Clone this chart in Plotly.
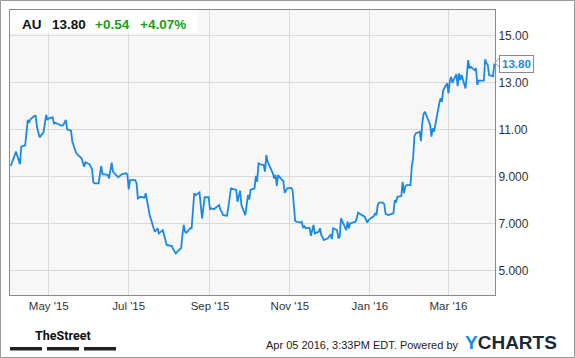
import plotly.graph_objects as go

# ---------------- data ----------------
dates = [
    "2015-04-02", "2015-04-06", "2015-04-09", "2015-04-10", "2015-04-13", "2015-04-15", "2015-04-16",
    "2015-04-17", "2015-04-20", "2015-04-21", "2015-04-22", "2015-04-24", "2015-04-27", "2015-04-28",
    "2015-04-29", "2015-04-30", "2015-05-01", "2015-05-04", "2015-05-05", "2015-05-06", "2015-05-08",
    "2015-05-11", "2015-05-12", "2015-05-14", "2015-05-15", "2015-05-18", "2015-05-19", "2015-05-20",
    "2015-05-22", "2015-05-26", "2015-05-27", "2015-05-28", "2015-05-29", "2015-06-01", "2015-06-02",
    "2015-06-03", "2015-06-04", "2015-06-05", "2015-06-08", "2015-06-10", "2015-06-11", "2015-06-15",
    "2015-06-16", "2015-06-18", "2015-06-19", "2015-06-23", "2015-06-26", "2015-06-29", "2015-06-30",
    "2015-07-01", "2015-07-02", "2015-07-06", "2015-07-07", "2015-07-08", "2015-07-10", "2015-07-13",
    "2015-07-14", "2015-07-15", "2015-07-17", "2015-07-20", "2015-07-21", "2015-07-23", "2015-07-24",
    "2015-07-27", "2015-07-28", "2015-07-29", "2015-07-30", "2015-08-03", "2015-08-04", "2015-08-06",
    "2015-08-07", "2015-08-10", "2015-08-11", "2015-08-12", "2015-08-13", "2015-08-14", "2015-08-17",
    "2015-08-18", "2015-08-20", "2015-08-21", "2015-08-24", "2015-08-26", "2015-08-28", "2015-08-31",
    "2015-09-01", "2015-09-02", "2015-09-04", "2015-09-08", "2015-09-09", "2015-09-10", "2015-09-11",
    "2015-09-14", "2015-09-15", "2015-09-17", "2015-09-21", "2015-09-22", "2015-09-24", "2015-09-25",
    "2015-09-28", "2015-09-30", "2015-10-01", "2015-10-02", "2015-10-05", "2015-10-06", "2015-10-07",
    "2015-10-08", "2015-10-09", "2015-10-12", "2015-10-13", "2015-10-14", "2015-10-15", "2015-10-19",
    "2015-10-20", "2015-10-21", "2015-10-22", "2015-10-23", "2015-10-26", "2015-10-27", "2015-10-28",
    "2015-10-30", "2015-11-02", "2015-11-03", "2015-11-04", "2015-11-05", "2015-11-06", "2015-11-09",
    "2015-11-10", "2015-11-11", "2015-11-12", "2015-11-13", "2015-11-16", "2015-11-17", "2015-11-19",
    "2015-11-20", "2015-11-23", "2015-11-24", "2015-11-25", "2015-11-27", "2015-11-30", "2015-12-01",
    "2015-12-02", "2015-12-03", "2015-12-04", "2015-12-07", "2015-12-08", "2015-12-09", "2015-12-10",
    "2015-12-14", "2015-12-15", "2015-12-16", "2015-12-17", "2015-12-21", "2015-12-22", "2015-12-23",
    "2015-12-28", "2015-12-29", "2015-12-30", "2015-12-31", "2016-01-04", "2016-01-05", "2016-01-06",
    "2016-01-07", "2016-01-08", "2016-01-11", "2016-01-12", "2016-01-13", "2016-01-15", "2016-01-19",
    "2016-01-20", "2016-01-21", "2016-01-22", "2016-01-25", "2016-01-26", "2016-01-27", "2016-01-28",
    "2016-01-29", "2016-02-01", "2016-02-02", "2016-02-03", "2016-02-04", "2016-02-05", "2016-02-08",
    "2016-02-09", "2016-02-10", "2016-02-11", "2016-02-12", "2016-02-16", "2016-02-17", "2016-02-18",
    "2016-02-19", "2016-02-22", "2016-02-23", "2016-02-24", "2016-02-25", "2016-02-26", "2016-02-29",
    "2016-03-01", "2016-03-02", "2016-03-03", "2016-03-04", "2016-03-07", "2016-03-08", "2016-03-09",
    "2016-03-10", "2016-03-11", "2016-03-14", "2016-03-15", "2016-03-16", "2016-03-17", "2016-03-18",
    "2016-03-21", "2016-03-22", "2016-03-23", "2016-03-24", "2016-03-28", "2016-03-29", "2016-03-30",
    "2016-03-31", "2016-04-01", "2016-04-04", "2016-04-05",
]
prices = [
    9.44, 10.05, 9.52, 10.26, 10.32, 11.40, 11.28,
    11.43, 11.57, 11.57, 11.11, 10.66, 10.87, 11.26,
    11.62, 11.40, 11.47, 11.51, 11.23, 11.28, 11.23,
    11.15, 11.18, 11.40, 11.00, 10.94, 10.47, 10.33,
    9.98, 9.77, 9.55, 9.41, 9.60, 9.52, 9.41,
    9.30, 8.75, 8.70, 8.70, 9.44, 9.09, 9.06,
    8.91, 9.58, 9.20, 8.96, 9.10, 9.13, 9.06,
    8.45, 8.84, 8.84, 8.70, 8.06, 8.13, 8.09,
    8.28, 8.02, 7.35, 6.79, 6.64, 6.79, 6.57,
    6.71, 6.43, 6.29, 6.08, 6.03, 5.89, 5.72,
    5.79, 5.95, 6.50, 6.93, 6.64, 6.60, 6.79,
    6.79, 8.28, 8.20, 8.32, 7.21, 8.11, 8.11,
    7.60, 7.64, 7.60, 7.78, 7.57, 7.49, 7.35,
    7.32, 7.68, 8.49, 8.42, 7.92, 8.39, 7.78,
    7.35, 8.20, 8.02, 8.42, 8.49, 9.02, 8.77,
    9.55, 9.52, 9.48, 9.20, 9.91, 9.62, 9.13,
    8.91, 9.06, 8.59, 9.06, 8.84, 8.81, 8.30,
    8.49, 8.51, 8.42, 7.78, 7.10, 7.07, 7.03,
    7.07, 6.83, 6.88, 6.79, 6.81, 6.47, 6.93,
    6.57, 6.64, 6.79, 6.50, 6.29, 6.36, 6.43,
    6.53, 6.33, 6.79, 6.71, 6.36, 6.43, 7.21,
    6.71, 7.07, 6.79, 7.00, 7.07, 7.21, 7.45,
    7.28, 7.17, 7.03, 7.14, 7.31, 7.43, 7.35,
    7.78, 7.88, 7.88, 7.82, 7.40, 7.35, 7.43,
    7.99, 7.88, 8.13, 8.16, 8.77, 8.28, 8.56,
    8.63, 8.63, 9.41, 9.77, 10.71, 10.83, 10.90,
    10.50, 11.26, 11.65, 11.75, 11.20, 10.69, 11.04,
    10.90, 11.90, 12.11, 12.32, 12.17, 12.67, 12.96,
    12.53, 13.03, 13.24, 12.98, 13.35, 12.84, 13.38,
    13.10, 13.31, 12.74, 13.30, 13.95, 13.60, 13.66,
    13.52, 13.60, 12.89, 13.07, 13.07, 13.98, 13.81,
    13.74, 13.31, 13.26, 13.80,
]

ticker = "AU"
last_price = "13.80"
change_abs = "+0.54"
change_pct = "+4.07%"

x_tick_vals = ["2015-05-01", "2015-07-01", "2015-09-01", "2015-11-01", "2016-01-01", "2016-03-01"]
x_tick_text = ["May '15", "Jul '15", "Sep '15", "Nov '15", "Jan '16", "Mar '16"]
y_tick_vals = [5, 7, 9, 11, 13, 15]
y_tick_text = ["5.000", "7.000", "9.000", "11.00", "13.00", "15.00"]

footer_text = "Apr 05 2016, 3:33PM EDT. Powered by"

# ---------------- layout helpers ----------------
WIDTH, HEIGHT = 575, 358
L, R, T, B = 10, 495, 10, 295
PW, PH = R - L, B - T


def px(x):
    return (x - L) / PW


def py(y):
    return (B - y) / PH


FONT = "Liberation Sans, Arial, sans-serif"
BLUE = "#1b89e6"
GREEN = "#16a016"

fig = go.Figure()
fig.add_trace(go.Scatter(
    x=dates, y=prices, mode="lines",
    line=dict(color=BLUE, width=1.8),
    hoverinfo="skip", showlegend=False,
))

fig.update_layout(
    width=WIDTH, height=HEIGHT,
    margin=dict(l=L, r=WIDTH - R, t=T, b=HEIGHT - B, pad=0),
    paper_bgcolor="white",
    plot_bgcolor="#f7f7f7",
    font=dict(family=FONT, size=12, color="#333"),
    showlegend=False,
)

fig.update_xaxes(
    type="date",
    range=["2015-04-01 10:00", "2016-04-05 12:00"],
    tickvals=x_tick_vals, ticktext=x_tick_text,
    tickfont=dict(size=11.5, color="#333"),
    showgrid=True, gridcolor="#d9d9d9", gridwidth=1,
    showline=True, linecolor="#8a8a8a", linewidth=1, mirror=True,
    ticks="", zeroline=False,
)
fig.update_yaxes(
    range=[3.95, 16.08],
    side="right",
    tickvals=y_tick_vals, ticktext=y_tick_text,
    tickfont=dict(size=12, color="#333"),
    showgrid=True, gridcolor="#d9d9d9", gridwidth=1,
    showline=True, linecolor="#8a8a8a", linewidth=1, mirror=True,
    ticks="", zeroline=False,
)

shapes = []
# outer frame
shapes.append(dict(type="rect", xref="paper", yref="paper",
                   x0=px(0.5), x1=px(574.5), y0=py(357.5), y1=py(0.5),
                   line=dict(color="#9a9a9a", width=1), fillcolor="rgba(0,0,0,0)", layer="above"))
# header box
shapes.append(dict(type="rect", xref="paper", yref="paper",
                   x0=px(10), x1=px(198), y0=py(33), y1=py(10),
                   line=dict(width=0), fillcolor="rgba(255,255,255,0.85)", layer="above"))
# last price pointer
shapes.append(dict(type="path", xref="paper", yref="paper",
                   path=f"M {px(499.5)} {py(58)} L {px(495)} {py(62.7)} L {px(499.5)} {py(67.4)} Z",
                   line=dict(color="#8a8a8a", width=1), fillcolor="white", layer="above"))
# TheStreet bars
for x0, x1 in [(10, 42), (47, 79), (84, 116)]:
    shapes.append(dict(type="rect", xref="paper", yref="paper",
                       x0=px(x0), x1=px(x1), y0=py(350.5), y1=py(347),
                       line=dict(width=0), fillcolor="#222", layer="above"))
fig.update_layout(shapes=shapes)

ann = []
hdr_y = py(24)
for txt, x, col in [(ticker, 20, "#111"), (last_price, 50, "#111"),
                    (change_abs, 93, GREEN), (change_pct, 137.5, GREEN)]:
    ann.append(dict(text=f"<b>{txt}</b>", xref="paper", yref="paper", x=px(x), y=hdr_y,
                    xanchor="left", yanchor="middle", showarrow=False,
                    font=dict(family=FONT, size=13.5, color=col)))
# last price label
ann.append(dict(text=f"<b>{last_price}</b>", xref="paper", yref="y", x=px(499), y=float(last_price),
                xanchor="left", yanchor="middle", showarrow=False,
                bgcolor="white", bordercolor="#8a8a8a", borderwidth=1, borderpad=2,
                font=dict(family=FONT, size=11.5, color=BLUE)))
# footer
ann.append(dict(text="<b>TheStreet</b>", xref="paper", yref="paper", x=px(63), y=py(335),
                xanchor="center", yanchor="middle", showarrow=False,
                font=dict(family="Liberation Sans Narrow, Roboto, Liberation Sans", size=12.5, color="#111")))
ann.append(dict(text=footer_text, xref="paper", yref="paper", x=px(460), y=py(345),
                xanchor="right", yanchor="middle", showarrow=False,
                font=dict(family=FONT, size=11, color="#222")))
ann.append(dict(text=f"<b><span style='color:{BLUE}'>Y</span>CHARTS</b>", xref="paper", yref="paper",
                x=px(463), y=py(342), xanchor="left", yanchor="middle", showarrow=False,
                font=dict(family=FONT, size=19, color="#1d2a36")))
fig.update_layout(annotations=ann)

fig.write_html("out.html", config={"displayModeBar": False},
               post_script="document.body.style.margin='0';document.body.style.overflow='hidden';")
